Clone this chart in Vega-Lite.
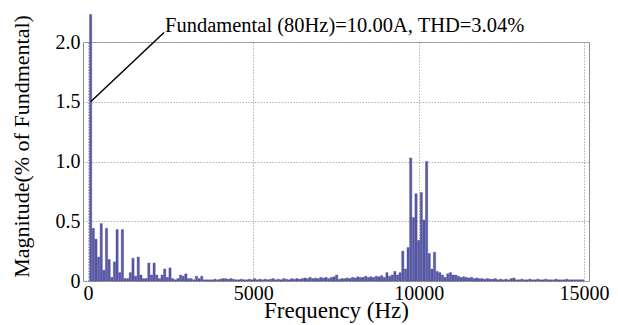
{
  "$schema": "https://vega.github.io/schema/vega-lite/v6.json",
  "width": 506,
  "height": 239,
  "autosize": {"type": "none"},
  "padding": {"left": 83, "top": 42, "right": 29, "bottom": 44},
  "config": {
    "view": {"stroke": "#8c8c8c", "strokeWidth": 1},
    "font": "Liberation Serif",
    "axis": {
      "labelFont": "Liberation Serif", "titleFont": "Liberation Serif",
      "labelFontSize": 20, "titleFontSize": 22, "labelColor": "#000", "titleColor": "#000",
      "titleFontWeight": "normal", "ticks": false, "domain": false,
      "gridColor": "#b0b0b0", "gridDash": [1.5, 1.5], "gridWidth": 1
    }
  },
  "datasets": {
    "spectrum": [
      {"f":80,"m":2.23},{"f":160,"m":0.44},{"f":240,"m":0.35},{"f":320,"m":0.2},{"f":400,"m":0.48},
      {"f":480,"m":0.09},{"f":560,"m":0.44},{"f":640,"m":0.18},{"f":720,"m":0.03},{"f":800,"m":0.16},
      {"f":880,"m":0.43},{"f":960,"m":0.07},{"f":1040,"m":0.43},{"f":1120,"m":0.02},{"f":1200,"m":0.02},
      {"f":1280,"m":0.07},{"f":1360,"m":0.19},{"f":1440,"m":0.04},{"f":1520,"m":0.2},{"f":1600,"m":0.05},
      {"f":1680,"m":0.02},{"f":1760,"m":0.02},{"f":1840,"m":0.15},{"f":1920,"m":0.05},{"f":2000,"m":0.15},
      {"f":2080,"m":0.05},{"f":2160,"m":0.02},{"f":2240,"m":0.05},{"f":2320,"m":0.1},{"f":2400,"m":0.03},
      {"f":2480,"m":0.11},{"f":2560,"m":0.02},{"f":2640,"m":0.01},{"f":2720,"m":0.02},{"f":2800,"m":0.05},
      {"f":2880,"m":0.04},{"f":2960,"m":0.06},{"f":3040,"m":0.02},{"f":3120,"m":0.02},{"f":3200,"m":0.01},
      {"f":3280,"m":0.04},{"f":3360,"m":0.02},{"f":3440,"m":0.04},{"f":3520,"m":0.01},{"f":3600,"m":0.01},
      {"f":3680,"m":0.01},{"f":3760,"m":0.01},{"f":3840,"m":0.015},{"f":3920,"m":0.01},{"f":4000,"m":0.015},
      {"f":4080,"m":0.02},{"f":4160,"m":0.02},{"f":4240,"m":0.015},{"f":4320,"m":0.02},{"f":4400,"m":0.015},
      {"f":4480,"m":0.01},{"f":4560,"m":0.01},{"f":4640,"m":0.015},{"f":4720,"m":0.01},{"f":4800,"m":0.01},
      {"f":4880,"m":0.015},{"f":4960,"m":0.01},{"f":5040,"m":0.02},{"f":5120,"m":0.01},{"f":5200,"m":0.015},
      {"f":5280,"m":0.01},{"f":5360,"m":0.015},{"f":5440,"m":0.01},{"f":5520,"m":0.015},{"f":5600,"m":0.02},
      {"f":5680,"m":0.01},{"f":5760,"m":0.015},{"f":5840,"m":0.01},{"f":5920,"m":0.02},{"f":6000,"m":0.015},
      {"f":6080,"m":0.01},{"f":6160,"m":0.02},{"f":6240,"m":0.015},{"f":6320,"m":0.02},{"f":6400,"m":0.015},
      {"f":6480,"m":0.02},{"f":6560,"m":0.025},{"f":6640,"m":0.02},{"f":6720,"m":0.03},{"f":6800,"m":0.02},
      {"f":6880,"m":0.025},{"f":6960,"m":0.02},{"f":7040,"m":0.03},{"f":7120,"m":0.025},{"f":7200,"m":0.03},
      {"f":7280,"m":0.02},{"f":7360,"m":0.03},{"f":7440,"m":0.035},{"f":7520,"m":0.05},{"f":7600,"m":0.015},
      {"f":7680,"m":0.02},{"f":7760,"m":0.02},{"f":7840,"m":0.025},{"f":7920,"m":0.02},{"f":8000,"m":0.03},
      {"f":8080,"m":0.025},{"f":8160,"m":0.035},{"f":8240,"m":0.03},{"f":8320,"m":0.03},{"f":8400,"m":0.04},
      {"f":8480,"m":0.03},{"f":8560,"m":0.035},{"f":8640,"m":0.03},{"f":8720,"m":0.04},{"f":8800,"m":0.035},
      {"f":8880,"m":0.045},{"f":8960,"m":0.03},{"f":9040,"m":0.07},{"f":9120,"m":0.04},{"f":9200,"m":0.05},
      {"f":9280,"m":0.08},{"f":9360,"m":0.05},{"f":9440,"m":0.07},{"f":9520,"m":0.25},{"f":9600,"m":0.1},
      {"f":9680,"m":0.28},{"f":9760,"m":1.03},{"f":9840,"m":0.53},{"f":9920,"m":0.73},{"f":10000,"m":0.34},
      {"f":10080,"m":0.74},{"f":10160,"m":0.51},{"f":10240,"m":1.0},{"f":10320,"m":0.23},{"f":10400,"m":0.1},
      {"f":10480,"m":0.24},{"f":10560,"m":0.08},{"f":10640,"m":0.07},{"f":10720,"m":0.05},{"f":10800,"m":0.03},
      {"f":10880,"m":0.06},{"f":10960,"m":0.07},{"f":11040,"m":0.05},{"f":11120,"m":0.05},{"f":11200,"m":0.04},
      {"f":11280,"m":0.03},{"f":11360,"m":0.035},{"f":11440,"m":0.03},{"f":11520,"m":0.025},{"f":11600,"m":0.03},
      {"f":11680,"m":0.02},{"f":11760,"m":0.025},{"f":11840,"m":0.02},{"f":11920,"m":0.02},{"f":12000,"m":0.015},
      {"f":12080,"m":0.02},{"f":12160,"m":0.015},{"f":12240,"m":0.015},{"f":12320,"m":0.02},{"f":12400,"m":0.01},
      {"f":12480,"m":0.015},{"f":12560,"m":0.01},{"f":12640,"m":0.015},{"f":12720,"m":0.01},{"f":12800,"m":0.02},
      {"f":12880,"m":0.025},{"f":12960,"m":0.01},{"f":13040,"m":0.01},{"f":13120,"m":0.015},{"f":13200,"m":0.01},
      {"f":13280,"m":0.01},{"f":13360,"m":0.015},{"f":13440,"m":0.01},{"f":13520,"m":0.01},{"f":13600,"m":0.015},
      {"f":13680,"m":0.01},{"f":13760,"m":0.01},{"f":13840,"m":0.015},{"f":13920,"m":0.01},{"f":14000,"m":0.01},
      {"f":14080,"m":0.01},{"f":14160,"m":0.015},{"f":14240,"m":0.01},{"f":14320,"m":0.01},{"f":14400,"m":0.01},
      {"f":14480,"m":0.015},{"f":14560,"m":0.01},{"f":14640,"m":0.01},{"f":14720,"m":0.01},{"f":14800,"m":0.01},
      {"f":14880,"m":0.01},{"f":14960,"m":0.01}
    ],
    "note": [
      {"f1": 80, "m1": 1.5, "f2": 2300, "m2": 2.08, "label": "Fundamental (80Hz)=10.00A, THD=3.04%"}
    ]
  },
  "layer": [
    {
      "data": {"name": "spectrum"},
      "mark": {"type": "bar", "width": 2.2, "fill": "#5a5aaa", "stroke": "#3c3c8c", "strokeWidth": 0.4, "clip": false},
      "encoding": {
        "x": {"field": "f", "type": "quantitative",
              "scale": {"domain": [0, 15000], "nice": false, "zero": false},
              "axis": {"values": [0, 5000, 10000, 15000], "format": "d", "title": "Frequency (Hz)",
                       "titleFontSize": 23, "labelPadding": 2, "titlePadding": -4, "grid": true}},
        "y": {"field": "m", "type": "quantitative",
              "scale": {"domain": [0, 2], "nice": false},
              "axis": {"values": [0, 0.5, 1, 1.5, 2],
                       "labelExpr": "datum.value == 0 ? '0' : format(datum.value, '.1f')",
                       "title": "Magnitude(% of Fundmental)", "labelPadding": 3, "titlePadding": 22,
                       "titleY": 104, "grid": true}}
      }
    },
    {
      "data": {"name": "note"},
      "mark": {"type": "rule", "color": "#000", "strokeWidth": 1.5, "clip": false},
      "encoding": {
        "x": {"field": "f1", "type": "quantitative"},
        "y": {"field": "m1", "type": "quantitative"},
        "x2": {"field": "f2"},
        "y2": {"field": "m2"}
      }
    },
    {
      "data": {"name": "note"},
      "mark": {"type": "text", "align": "left", "baseline": "middle", "font": "Liberation Serif", "fontSize": 20.5, "color": "#000", "clip": false, "dx": 1, "dy": -6},
      "encoding": {
        "x": {"field": "f2", "type": "quantitative"},
        "y": {"field": "m2", "type": "quantitative"},
        "text": {"field": "label"}
      }
    }
  ]
}
